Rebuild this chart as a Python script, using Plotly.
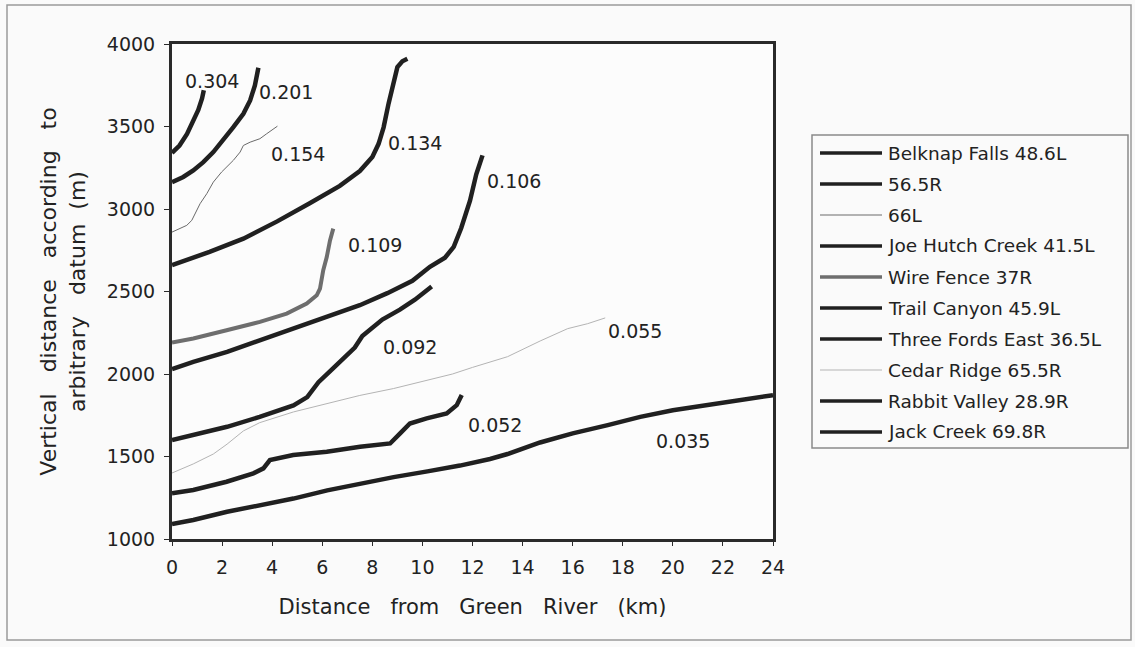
import plotly.graph_objects as go

# Long profiles of tributaries: distance from Green River (km) vs elevation (m)
belknap_x = [0, 0.3, 0.6, 0.85, 1.05, 1.2, 1.27]
belknap_y = [3340, 3385, 3455, 3535, 3600, 3670, 3720]

r565_x = [0, 0.45, 0.85, 1.25, 1.65, 2.05, 2.45, 2.85, 3.12, 3.31, 3.41, 3.45]
r565_y = [3163, 3194, 3234, 3284, 3345, 3416, 3496, 3577, 3658, 3749, 3820, 3856]

l66_x = [0, 0.59, 0.79, 1.12, 1.39, 1.65, 1.98, 2.45, 2.72, 2.85, 3.12, 3.51, 3.78, 4.05, 4.21]
l66_y = [2860, 2901, 2931, 3032, 3093, 3163, 3224, 3295, 3345, 3385, 3405, 3426, 3456, 3487, 3502]

joe_x = [0, 1.5, 2.85, 4.2, 5.5, 6.7, 7.5, 8.0, 8.25, 8.45, 8.65, 8.85, 9.0, 9.2, 9.4]
joe_y = [2660, 2740, 2820, 2925, 3035, 3140, 3230, 3315, 3395, 3495, 3640, 3780, 3860, 3895, 3910]

wire_x = [0, 0.85, 2.18, 3.51, 4.58, 5.38, 5.78, 5.91, 6.04, 6.18, 6.31, 6.44]
wire_y = [2191, 2215, 2265, 2316, 2366, 2427, 2477, 2518, 2629, 2709, 2810, 2881]

trail_x = [0, 0.85, 2.2, 3.5, 4.85, 6.2, 7.5, 8.6, 9.6, 10.3, 10.9, 11.25, 11.55, 11.9, 12.15, 12.4]
trail_y = [2030, 2073, 2134, 2205, 2276, 2346, 2417, 2490, 2565, 2650, 2705, 2770, 2885, 3050, 3210, 3325]

fords_x = [0, 0.85, 2.2, 3.5, 4.85, 5.4, 5.85, 6.4, 6.9, 7.3, 7.6, 8.4, 9.1, 9.7, 10.37]
fords_y = [1600, 1630, 1680, 1740, 1810, 1860, 1950, 2030, 2100, 2160, 2230, 2330, 2390, 2450, 2530]

cedar_x = [0, 0.85, 1.65, 2.2, 2.85, 3.5, 4.85, 6.2, 7.5, 8.85, 10.2, 11.2, 12.0, 13.4, 14.7, 15.8, 16.6, 17.3]
cedar_y = [1400, 1455, 1515, 1575, 1655, 1705, 1770, 1820, 1870, 1912, 1960, 2000, 2040, 2105, 2200, 2275, 2305, 2340]

rabbit_x = [0, 0.85, 2.18, 3.25, 3.65, 3.91, 4.84, 6.18, 7.51, 8.71, 9.11, 9.5, 10.17, 10.97, 11.37, 11.57]
rabbit_y = [1277, 1297, 1347, 1398, 1428, 1478, 1509, 1529, 1559, 1579, 1640, 1700, 1731, 1761, 1811, 1872]

jack_x = [0, 0.85, 2.2, 3.5, 4.85, 6.2, 7.5, 8.85, 10.2, 11.5, 12.7, 13.4, 14.7, 16.0, 17.4, 18.7, 20.0, 21.4, 22.7, 24.0]
jack_y = [1090, 1115, 1165, 1205, 1245, 1295, 1335, 1375, 1410, 1445, 1485, 1515, 1585, 1640, 1690, 1740, 1780, 1810, 1842, 1872]

series_names = [
    "Belknap Falls 48.6L", "56.5R", "66L", "Joe Hutch Creek 41.5L", "Wire Fence 37R",
    "Trail Canyon 45.9L", "Three Fords East 36.5L", "Cedar Ridge 65.5R",
    "Rabbit Valley 28.9R", "Jack Creek 69.8R",
]
series_x = [belknap_x, r565_x, l66_x, joe_x, wire_x, trail_x, fords_x, cedar_x, rabbit_x, jack_x]
series_y = [belknap_y, r565_y, l66_y, joe_y, wire_y, trail_y, fords_y, cedar_y, rabbit_y, jack_y]

# Slope labels and where they sit
slope_text = ["0.304", "0.201", "0.154", "0.134", "0.109", "0.106", "0.092", "0.055", "0.052", "0.035"]
slope_x = [1.6, 4.55, 5.03, 9.7, 8.1, 13.66, 9.5, 18.5, 12.9, 20.4]
slope_y = [3773, 3712, 3331, 3398, 2780, 3167, 2162, 2260, 1690, 1593]

x_ticks = list(range(0, 25, 2))
y_ticks = list(range(1000, 4001, 500))

# Line styles per series
DARK = "#202020"
styles = [
    dict(color=DARK, width=4.5),
    dict(color=DARK, width=4.5),
    dict(color="#6a6a6a", width=1),
    dict(color=DARK, width=4.5),
    dict(color="#6e6e6e", width=4),
    dict(color=DARK, width=4.5),
    dict(color=DARK, width=4.5),
    dict(color="#b4b4b4", width=1),
    dict(color=DARK, width=4.5),
    dict(color=DARK, width=4.5),
]

FONT = "DejaVu Sans"
W, H = 1135, 647
PL, PR, PT, PB = 172, 773, 44, 539


def px_x(px):
    return (px - PL) / (PR - PL)


def px_y(py):
    return (PB - py) / (PB - PT)


fig = go.Figure()
for name, xs, ys, st in zip(series_names, series_x, series_y, styles):
    fig.add_trace(go.Scatter(x=xs, y=ys, mode="lines", name=name, line=st,
                             showlegend=False))

for t, x, y in zip(slope_text, slope_x, slope_y):
    fig.add_annotation(x=x, y=y, xref="x", yref="y", text=t, showarrow=False,
                       font=dict(family=FONT, size=19, color="#222"))

shapes = []
# outer chart frame
shapes.append(dict(type="rect", xref="paper", yref="paper",
                   x0=px_x(7), x1=px_x(1131), y0=px_y(640), y1=px_y(5),
                   line=dict(color="#9a9a9a", width=1.5), layer="below"))
# legend box
shapes.append(dict(type="rect", xref="paper", yref="paper",
                   x0=px_x(812), x1=px_x(1128), y0=px_y(448), y1=px_y(135),
                   line=dict(color="#8a8a8a", width=1.5), fillcolor="rgba(0,0,0,0)"))
row0, row_step = 153, 31
for i, (name, st) in enumerate(zip(series_names, styles)):
    ry = row0 + i * row_step
    shapes.append(dict(type="line", xref="paper", yref="paper",
                       x0=px_x(820), x1=px_x(882), y0=px_y(ry), y1=px_y(ry),
                       line=dict(color=st["color"], width=min(st["width"], 3.5))))
    fig.add_annotation(x=px_x(886), y=px_y(ry), xref="paper", yref="paper",
                       text=name, showarrow=False, xanchor="left", yanchor="middle",
                       font=dict(family=FONT, size=18.5, color="#222"))

sp = "\u00a0\u00a0\u00a0"
fig.update_layout(
    width=W, height=H,
    margin=dict(l=PL, r=W - PR, t=PT, b=H - PB, pad=0),
    paper_bgcolor="#fafafa", plot_bgcolor="#fcfcfc",
    font=dict(family=FONT, color="#222"),
    shapes=shapes,
    xaxis=dict(
        range=[0, 24], tickvals=x_ticks, ticktext=[str(v) for v in x_ticks],
        showgrid=False, zeroline=False, showline=True, mirror=True,
        linecolor="#2a2a2a", linewidth=3, ticks="outside", ticklen=4,
        tickcolor="#2a2a2a", tickfont=dict(family=FONT, size=19, color="#222"),
        ticklabelstandoff=5,
        title=dict(text=sp.join(["Distance", "from", "Green", "River", "(km)"]),
                   font=dict(family=FONT, size=21, color="#222"), standoff=23),
    ),
    yaxis=dict(
        range=[1000, 4000], tickvals=y_ticks, ticktext=[str(v) for v in y_ticks],
        showgrid=False, zeroline=False, showline=True, mirror=True,
        linecolor="#2a2a2a", linewidth=3, ticks="outside", ticklen=5,
        tickcolor="#2a2a2a", tickfont=dict(family=FONT, size=19, color="#222"),
        ticklabelstandoff=5,
        title=dict(text=sp.join(["Vertical", "distance", "according", "to"]) + "<br>"
                   + "arbitrary" + sp + "datum" + "\u00a0\u00a0" + "(m)",
                   font=dict(family=FONT, size=22, color="#222"), standoff=16),
    ),
)

fig.write_html("out.html")
